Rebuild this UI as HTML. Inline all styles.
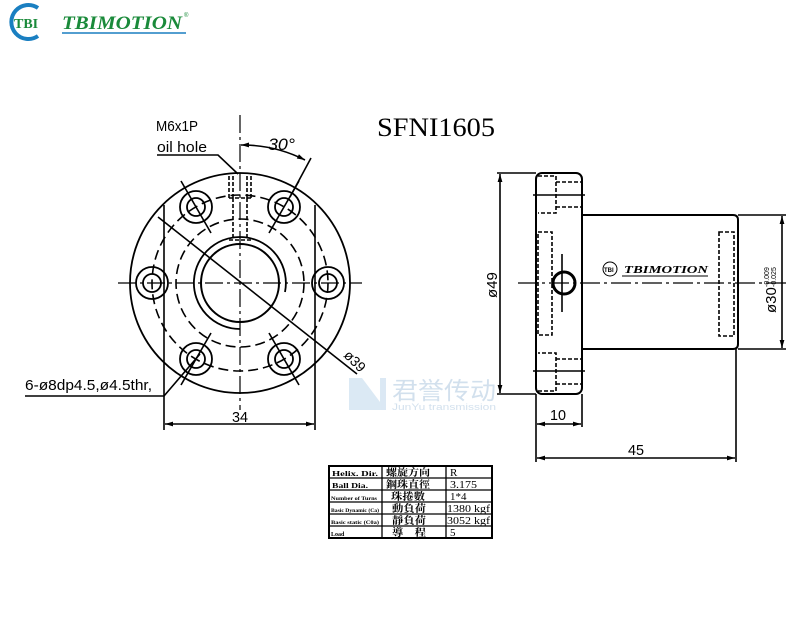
<!DOCTYPE html>
<html><head><meta charset="utf-8"><style>
html,body{margin:0;padding:0;background:#fff;}
svg{display:block;}
</style></head><body>
<svg width="800" height="640" viewBox="0 0 800 640" xmlns="http://www.w3.org/2000/svg" font-family="Liberation Sans,sans-serif">
<defs>
<marker id="a" viewBox="0 0 10 10" refX="10" refY="5" markerWidth="7" markerHeight="5" orient="auto-start-reverse"><path d="M0,2 L10,5 L0,8 z" fill="#000"/></marker>
</defs>
<!-- top-left logo -->
<path d="M38,8 A17,17 0 1 0 38,36" fill="none" stroke="#1a7fc1" stroke-width="4"/>
<text x="14" y="28" font-family="Liberation Serif,serif" font-weight="bold" font-size="14" fill="#1a8a3a">TBI</text>
<text x="62" y="29" font-family="Liberation Serif,serif" font-weight="bold" font-style="italic" font-size="19" fill="#1a8a3a" textLength="120" lengthAdjust="spacingAndGlyphs">TBIMOTION</text>
<line x1="62" y1="33" x2="186" y2="33" stroke="#1a7fc1" stroke-width="1.5"/>
<text x="184" y="17" font-size="6" fill="#1a8a3a">®</text>

<!-- title -->
<text x="377" y="136" font-family="Liberation Serif,serif" font-size="26" textLength="118" lengthAdjust="spacingAndGlyphs">SFNI1605</text>

<g fill="none" stroke="#000" stroke-width="1.6">
<!-- front view -->
<circle cx="240" cy="283" r="110" stroke-width="1.8"/>
<circle cx="240" cy="283" r="88" stroke-dasharray="10,5"/>
<circle cx="240" cy="283" r="64" stroke-dasharray="10,5"/>
<circle cx="240" cy="283" r="39" stroke-width="2"/>
<path d="M285,292 A46,46 0 1 0 240,329" stroke-width="1.8"/>
<g stroke-width="1.8">
<circle cx="152" cy="283" r="16"/><circle cx="152" cy="283" r="9"/>
<circle cx="328" cy="283" r="16"/><circle cx="328" cy="283" r="9"/>
<circle cx="196" cy="207" r="16"/><circle cx="196" cy="207" r="9"/>
<circle cx="284" cy="207" r="16"/><circle cx="284" cy="207" r="9"/>
<circle cx="196" cy="359" r="16"/><circle cx="196" cy="359" r="9"/>
<circle cx="284" cy="359" r="16"/><circle cx="284" cy="359" r="9"/>
</g>
<line x1="181" y1="181" x2="211" y2="233"/>
<line x1="299" y1="181" x2="269" y2="233"/>
<line x1="181" y1="385" x2="211" y2="333"/>
<line x1="299" y1="385" x2="269" y2="333"/>
<line x1="290" y1="197" x2="311" y2="158"/>
<line x1="240" y1="115" x2="240" y2="410" stroke-dasharray="18,4,3,4" stroke-width="1.2"/>
<line x1="118" y1="283" x2="362" y2="283" stroke-dasharray="18,4,3,4" stroke-width="1.2"/>
<path d="M229,176 V198 M251,176 V198 M233,176 V198 M247,176 V198 M229,198 H251 M233,198 V240 M247,198 V240 M229,240 H251" stroke-dasharray="4,2"/>
<line x1="158" y1="217" x2="357" y2="374"/>
<path d="M241,145 A140,140 0 0 1 305,160" marker-start="url(#a)" marker-end="url(#a)"/>
<polyline points="157,155 218,155 238,174"/>
<polyline points="25,396 164,396 200,354"/>
<line x1="164" y1="205" x2="164" y2="430"/>
<line x1="315" y1="205" x2="315" y2="430"/>
<line x1="165" y1="424" x2="314" y2="424" marker-start="url(#a)" marker-end="url(#a)"/>

<!-- side view -->
<rect x="536" y="173" width="46" height="221" rx="6" stroke-width="2"/>
<path d="M582,215 H733 Q738,215 738,220 V344 Q738,349 733,349 H582" stroke-width="2"/>
<g stroke-dasharray="4,2">
<path d="M538,176 H556 V213 H538 M556,182 H582 M556,207 H582"/>
<path d="M538,391 H556 V353 H538 M556,359 H582 M556,384 H582"/>
<rect x="538" y="232" width="14" height="103"/>
<rect x="719" y="232" width="15" height="104"/>
</g>
<line x1="533" y1="195" x2="585" y2="195"/>
<line x1="533" y1="371" x2="585" y2="371"/>
<circle cx="564" cy="283" r="11" stroke-width="3"/>
<line x1="562" y1="254" x2="562" y2="312"/>
<line x1="518" y1="283" x2="790" y2="283" stroke-dasharray="20,4,3,4" stroke-width="1.2"/>
<line x1="497" y1="173" x2="536" y2="173"/>
<line x1="497" y1="394" x2="536" y2="394"/>
<line x1="500" y1="174" x2="500" y2="393" marker-start="url(#a)" marker-end="url(#a)"/>
<line x1="738" y1="215" x2="786" y2="215"/>
<line x1="738" y1="349" x2="786" y2="349"/>
<line x1="782" y1="216" x2="782" y2="348" marker-start="url(#a)" marker-end="url(#a)"/>
<line x1="536" y1="394" x2="536" y2="462"/>
<line x1="582" y1="394" x2="582" y2="427"/>
<line x1="736" y1="349" x2="736" y2="462"/>
<line x1="537" y1="424" x2="581" y2="424" marker-start="url(#a)" marker-end="url(#a)"/>
<line x1="537" y1="458" x2="735" y2="458" marker-start="url(#a)" marker-end="url(#a)"/>
</g>

<!-- labels -->
<g font-size="15">
<text x="156" y="131" textLength="42" lengthAdjust="spacingAndGlyphs">M6x1P</text>
<text x="157" y="152" textLength="50" lengthAdjust="spacingAndGlyphs">oil hole</text>
<text x="268" y="150" font-style="italic" font-size="17" textLength="27" lengthAdjust="spacingAndGlyphs">30°</text>
<text x="25" y="390" textLength="127" lengthAdjust="spacingAndGlyphs">6-ø8dp4.5,ø4.5thr,</text>
<text x="232" y="422" textLength="16" lengthAdjust="spacingAndGlyphs">34</text>
<text x="550" y="420" textLength="16" lengthAdjust="spacingAndGlyphs">10</text>
<text x="628" y="455" textLength="16" lengthAdjust="spacingAndGlyphs">45</text>
<text transform="translate(343,356) rotate(45)" font-size="14">ø39</text>
<text transform="translate(497,298) rotate(-90)" font-size="15">ø49</text>
<text transform="translate(776,313) rotate(-90)" font-size="15">ø30</text>
<text transform="translate(769,287) rotate(-90)" font-size="7">-0.009</text>
<text transform="translate(776,287) rotate(-90)" font-size="7">-0.025</text>
</g>
<circle cx="610" cy="269" r="7" fill="none" stroke="#000"/>
<text x="604" y="272" font-size="6" font-weight="bold">TBI</text>
<text x="624" y="273" font-family="Liberation Serif,serif" font-style="italic" font-weight="bold" font-size="10" textLength="84" lengthAdjust="spacingAndGlyphs">TBIMOTION</text>
<line x1="622" y1="276" x2="708" y2="276" stroke="#000"/>

<!-- watermark -->
<g opacity="0.5">
<path d="M349,378 L362,378 L380,402 L380,378 L386,378 L386,410 L349,410 Z" fill="#b8d3ea"/>
<text x="392" y="399" font-family="Noto Sans CJK SC,sans-serif" font-size="24" fill="#a7c3dd" textLength="104" lengthAdjust="spacingAndGlyphs">君誉传动</text>
<text x="392" y="410" font-size="9" fill="#a7c3dd" textLength="104" lengthAdjust="spacingAndGlyphs">JunYu transmission</text>
</g>

<!-- table -->
<g fill="none" stroke="#000">
<rect x="329" y="466" width="163" height="72" stroke-width="2"/>
<path d="M329,478H492M329,490H492M329,502H492M329,514H492M329,526H492M382,466V538M446,466V538" stroke-width="1.3"/>
</g>
<g font-family="Liberation Serif,'Noto Serif CJK SC',serif" font-size="9">
<text x="332" y="476" font-size="7" font-weight="bold" textLength="46" lengthAdjust="spacingAndGlyphs">Helix. Dir.</text>
<text x="332" y="488" font-size="7" font-weight="bold" textLength="36" lengthAdjust="spacingAndGlyphs">Ball Dia.</text>
<text x="331" y="500" font-size="5" font-weight="bold" textLength="46" lengthAdjust="spacingAndGlyphs">Number of Turns</text>
<text x="331" y="512" font-size="5" font-weight="bold" textLength="48" lengthAdjust="spacingAndGlyphs">Basic Dynamic (Ca)</text>
<text x="331" y="524" font-size="5" font-weight="bold" textLength="48" lengthAdjust="spacingAndGlyphs">Basic static (C0a)</text>
<text x="331" y="536" font-size="6" font-weight="bold">Load</text>
<text x="386" y="476" font-size="10" font-weight="bold" textLength="44" lengthAdjust="spacingAndGlyphs">螺旋方向</text>
<text x="386" y="488" font-size="10" font-weight="bold" textLength="44" lengthAdjust="spacingAndGlyphs">鋼珠直徑</text>
<text x="391" y="500" font-size="10" font-weight="bold" textLength="34" lengthAdjust="spacingAndGlyphs">珠捲數</text>
<text x="392" y="512" font-size="10" font-weight="bold" textLength="34" lengthAdjust="spacingAndGlyphs">動負荷</text>
<text x="392" y="524" font-size="10" font-weight="bold" textLength="34" lengthAdjust="spacingAndGlyphs">靜負荷</text>
<text x="392" y="536" font-size="10" font-weight="bold" textLength="34" lengthAdjust="spacingAndGlyphs">導　程</text>
<text x="450" y="476" font-size="11">R</text>
<text x="450" y="488" font-size="11" textLength="27" lengthAdjust="spacingAndGlyphs">3.175</text>
<text x="450" y="500" font-size="11">1*4</text>
<text x="447" y="512" font-size="11" textLength="43" lengthAdjust="spacingAndGlyphs">1380 kgf</text>
<text x="447" y="524" font-size="11" textLength="43" lengthAdjust="spacingAndGlyphs">3052 kgf</text>
<text x="450" y="536" font-size="11">5</text>
</g>
</svg>
</body></html>
